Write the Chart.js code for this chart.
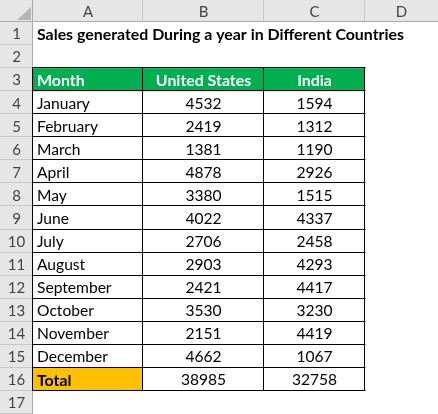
<!DOCTYPE html>
<html><head><meta charset="utf-8">
<script src="https://cdn.jsdelivr.net/npm/chart.js@4/dist/chart.umd.min.js"></script>
<style>html,body{margin:0;padding:0;background:#fff;overflow:hidden}canvas{display:block}</style>
</head><body>
<canvas id="c" width="438" height="414"></canvas>
<script>
const title = "Sales generated During a year in Different Countries";
const columnLetters = ["A", "B", "C", "D"];
const headers = ["Month", "United States", "India"];
const months = ["January","February","March","April","May","June","July","August","September","October","November","December"];
const unitedStates = [4532,2419,1381,4878,3380,4022,2706,2903,2421,3530,2151,4662];
const india = [1594,1312,1190,2926,1515,4337,2458,4293,4417,3230,4419,1067];
const totalLabel = "Total";
const totals = [38985, 32758];
const rowCount = 17;

// layout (styles)
const colWidths = [33, 110, 121, 101, 73];
const headerH = 22, rowH = 23.05;
const FONT = "Lato, 'Open Sans', sans-serif";
const NORMAL = '15.6px ' + FONT, BOLD = 'bold 15.9px ' + FONT;

const edges = [0];
colWidths.forEach(w => edges.push(edges[edges.length-1] + w));

const sheetPlugin = {
  id: 'sheet',
  beforeDraw(chart) {
    const ctx = chart.ctx, xs = chart.scales.x, ys = chart.scales.y;
    const X = v => xs.getPixelForValue(v), Y = v => ys.getPixelForValue(v);
    const W = X(edges[edges.length-1]), top = Y(ys.min), bottom = Y(rowCount);
    ctx.save();
    ctx.fillStyle = '#fff'; ctx.fillRect(0, 0, chart.width, chart.height);
    // column header bar
    ctx.fillStyle = '#e6e6e6';
    ctx.fillRect(X(0), top, W - X(0), Y(0) - top);
    ctx.fillRect(X(0), Y(0), X(edges[1]) - X(0), bottom - Y(0));
    // header separators
    ctx.strokeStyle = '#c8c8c8'; ctx.lineWidth = 1;
    for (let i = 1; i < edges.length - 1; i++) {
      const x = Math.round(X(edges[i])) - 0.5;
      ctx.beginPath(); ctx.moveTo(x, top); ctx.lineTo(x, Y(0)); ctx.stroke();
    }
    for (let r = 1; r <= rowCount; r++) {
      const y = Math.round(Y(r)) - 0.5;
      ctx.beginPath(); ctx.moveTo(X(0), y); ctx.lineTo(X(edges[1]) - 1, y); ctx.stroke();
    }
    ctx.strokeStyle = '#ababab';
    let y0 = Math.round(Y(0)) - 0.5;
    ctx.beginPath(); ctx.moveTo(0, y0); ctx.lineTo(W, y0); ctx.stroke();
    let x1 = Math.round(X(edges[1])) - 0.5;
    ctx.beginPath(); ctx.moveTo(x1, top); ctx.lineTo(x1, bottom); ctx.stroke();
    // corner triangle
    ctx.fillStyle = '#b4b4b4';
    ctx.beginPath();
    ctx.moveTo(X(edges[1]) - 2, top + 7);
    ctx.lineTo(X(edges[1]) - 2, Y(0) - 2);
    ctx.lineTo(X(edges[1]) - 16, Y(0) - 2);
    ctx.closePath(); ctx.fill();
    // column letters
    ctx.fillStyle = '#444'; ctx.font = '15px ' + FONT;
    ctx.textAlign = 'center'; ctx.textBaseline = 'middle';
    columnLetters.forEach((l, i) => {
      ctx.fillText(l, (X(edges[i+1]) + X(edges[i+2])) / 2, (top + Y(0)) / 2 + 1);
    });
    // row numbers
    for (let r = 1; r <= rowCount; r++) {
      ctx.fillText(String(r), (X(0) + X(edges[1])) / 2, (Y(r-1) + Y(r)) / 2 + 1);
    }
    // helpers for cells
    const cellL = c => X(edges[c+1]), cellR = c => X(edges[c+2]);
    const rowMid = r => (Y(r-1) + Y(r)) / 2 + 1;
    // fills
    ctx.fillStyle = '#00b050';
    ctx.fillRect(cellL(0), Y(2), cellR(2) - cellL(0), Y(3) - Y(2));
    ctx.fillStyle = '#ffc000';
    ctx.fillRect(cellL(0), Y(15), cellR(0) - cellL(0), Y(16) - Y(15));
    // title
    ctx.fillStyle = '#000'; ctx.textAlign = 'left';
    ctx.font = BOLD;
    ctx.fillText(title, cellL(0) + 4, rowMid(1));
    // headers
    ctx.fillStyle = '#fff';
    ctx.fillText(headers[0], cellL(0) + 4, rowMid(3));
    ctx.textAlign = 'center';
    ctx.fillText(headers[1], (cellL(1) + cellR(1)) / 2, rowMid(3));
    ctx.fillText(headers[2], (cellL(2) + cellR(2)) / 2, rowMid(3));
    // data
    ctx.fillStyle = '#000';
    ctx.font = NORMAL;
    months.forEach((m, i) => {
      const r = 4 + i;
      ctx.textAlign = 'left';
      ctx.fillText(m, cellL(0) + 4, rowMid(r));
      ctx.textAlign = 'center';
      ctx.fillText(String(unitedStates[i]), (cellL(1) + cellR(1)) / 2, rowMid(r));
      ctx.fillText(String(india[i]), (cellL(2) + cellR(2)) / 2, rowMid(r));
    });
    ctx.textAlign = 'left'; ctx.font = BOLD;
    ctx.fillText(totalLabel, cellL(0) + 4, rowMid(16));
    ctx.textAlign = 'center'; ctx.font = NORMAL;
    ctx.fillText(String(totals[0]), (cellL(1) + cellR(1)) / 2, rowMid(16));
    ctx.fillText(String(totals[1]), (cellL(2) + cellR(2)) / 2, rowMid(16));
    // borders
    ctx.strokeStyle = '#000'; ctx.lineWidth = 1;
    for (let r = 2; r <= 16; r++) {
      const y = Math.round(Y(r)) - 0.5;
      ctx.beginPath(); ctx.moveTo(Math.round(cellL(0)) - 0.5, y); ctx.lineTo(Math.round(cellR(2)) + 0.5, y); ctx.stroke();
    }
    for (let c = 0; c <= 3; c++) {
      const x = Math.round(X(edges[c+1])) - 0.5;
      ctx.beginPath(); ctx.moveTo(x, Math.round(Y(2)) - 0.5); ctx.lineTo(x, Math.round(Y(16)) - 0.5); ctx.stroke();
    }
    ctx.restore();
  }
};

new Chart(document.getElementById('c'), {
  type: 'scatter',
  data: { datasets: [] },
  options: {
    responsive: false, animation: false, devicePixelRatio: 1,
    layout: { padding: 0 },
    plugins: { legend: { display: false }, tooltip: { enabled: false } },
    scales: {
      x: { type: 'linear', min: 0, max: edges[edges.length-1], display: false },
      y: { type: 'linear', min: -headerH / rowH, max: rowCount, reverse: true, display: false }
    }
  },
  plugins: [sheetPlugin]
});
</script>
</body></html>
